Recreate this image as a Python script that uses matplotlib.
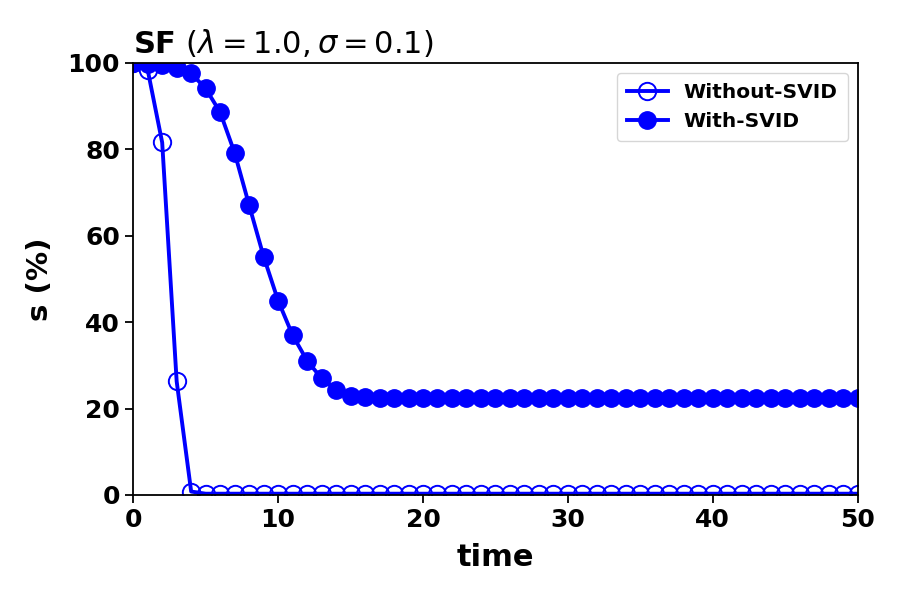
import numpy as np
import matplotlib
matplotlib.use("Agg")
import matplotlib.pyplot as plt

time = np.arange(0, 51)

# Without-SVID: collapses within a few steps
without_head = [100.0, 98.4, 81.6, 26.3, 0.8]
without_tail = [0.3] * (len(time) - len(without_head))
without_svid = without_head + without_tail

# With-SVID: slow decay to a plateau near 22.4 %
with_head = [100.0, 99.8, 99.5, 98.9, 97.6, 94.1, 88.6, 79.2, 67.1, 55.2,
             45.0, 37.0, 31.1, 27.0, 24.4, 23.0, 22.6, 22.5]
with_tail = [22.4] * (len(time) - len(with_head))
with_svid = with_head + with_tail

fig = plt.figure(figsize=(9, 6), dpi=100)
ax = fig.add_axes([0.148, 0.175, 0.805, 0.72])

ax.plot(time, without_svid, color="blue", lw=2.8, marker="o", ms=12.5,
        mfc="none", mew=1.4, label="Without-SVID")
ax.plot(time, with_svid, color="blue", lw=2.8, marker="o", ms=12.5,
        label="With-SVID")

ax.set_xlim(0, 50)
ax.set_ylim(0, 100)
ax.set_xticks([0, 10, 20, 30, 40, 50])
ax.set_yticks([0, 20, 40, 60, 80, 100])
ax.tick_params(labelsize=18, width=1.3, length=6)
for lbl in ax.get_xticklabels() + ax.get_yticklabels():
    lbl.set_fontweight("bold")
for sp in ax.spines.values():
    sp.set_linewidth(1.3)

ax.set_xlabel("time", fontsize=22, fontweight="bold", labelpad=8)
ax.set_ylabel("s (%)", fontsize=21, fontweight="bold", labelpad=10)
ax.set_title(r"$\mathbf{SF}$ $(\lambda=1.0, \sigma=0.1)$", loc="left",
             fontsize=22, pad=7)

leg = ax.legend(loc="upper right", prop={"weight": "bold", "size": 14.5},
                borderpad=0.5)

fig.savefig("out.png", dpi=100)
